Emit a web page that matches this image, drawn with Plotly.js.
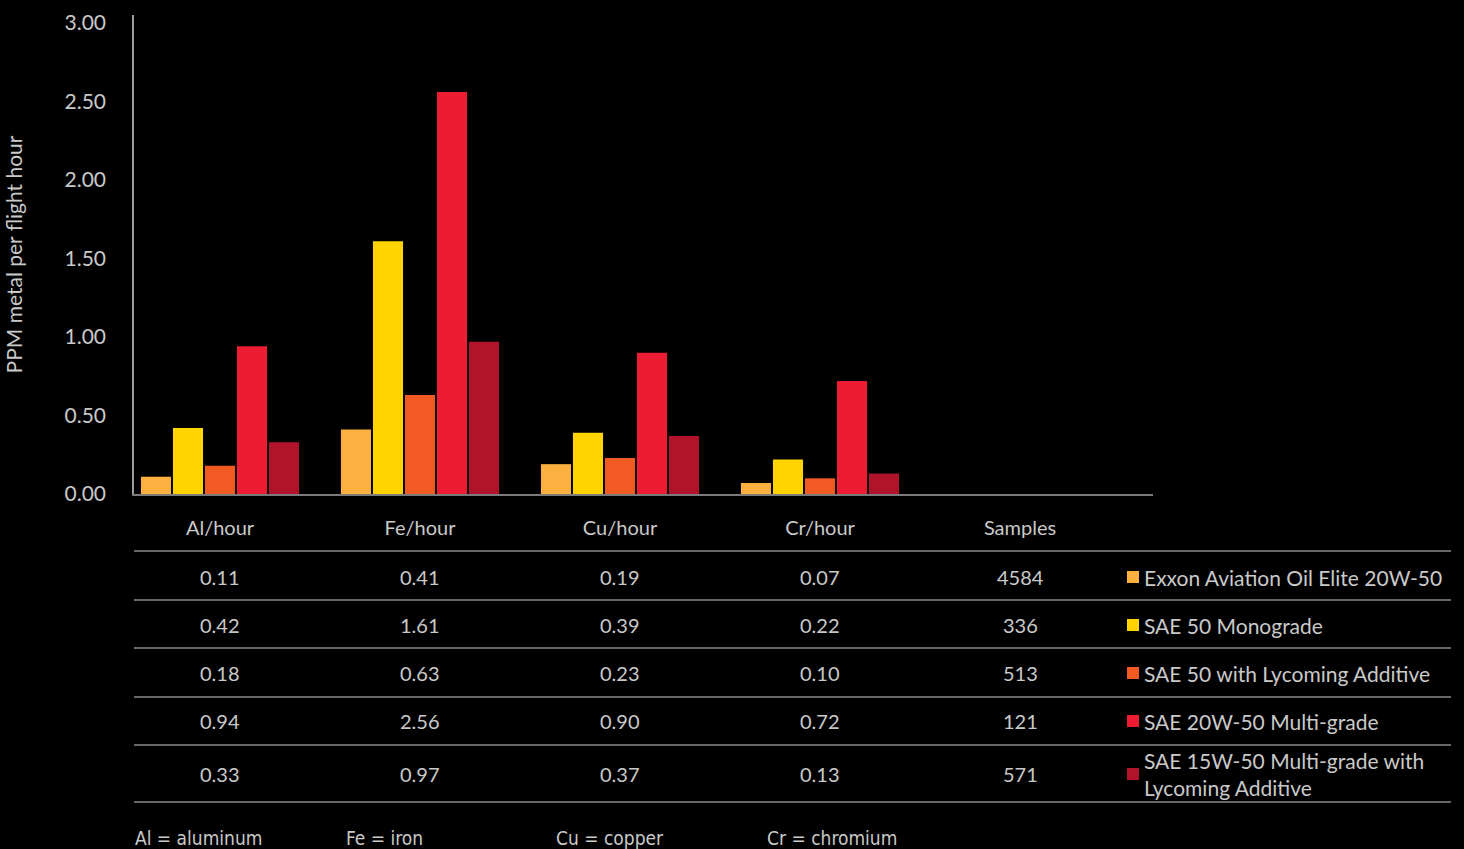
<!DOCTYPE html>
<html>
<head>
<meta charset="utf-8">
<script src="https://cdn.plot.ly/plotly-3.0.1.min.js"></script>
<style>
  html, body { margin: 0; padding: 0; background: #000; }
  #chart { width: 1464px; height: 849px; }
</style>
</head>
<body>
<div id="chart"></div>
<script>
// Wear metals per flight hour by oil type
const categories = ['Al/hour', 'Fe/hour', 'Cu/hour', 'Cr/hour', 'Samples'];
const oils = [
  'Exxon Aviation Oil Elite 20W-50',
  'SAE 50 Monograde',
  'SAE 50 with Lycoming Additive',
  'SAE 20W-50 Multi-grade',
  'SAE 15W-50 Multi-grade with<br>Lycoming Additive'
];
const alPerHour = [0.11, 0.42, 0.18, 0.94, 0.33];
const fePerHour = [0.41, 1.61, 0.63, 2.56, 0.97];
const cuPerHour = [0.19, 0.39, 0.23, 0.90, 0.37];
const crPerHour = [0.07, 0.22, 0.10, 0.72, 0.13];
const samples = [4584, 336, 513, 121, 571];
const yTicks = [0, 0.5, 1, 1.5, 2, 2.5, 3];
const footnotes = ['Al = aluminum', 'Fe = iron', 'Cu = copper', 'Cr = chromium'];

const colors = ['#FBB040', '#FFD400', '#F15A22', '#ED1C33', '#B0132A'];
const textColor = '#c9c9c9';
const lineColor = '#8a8a8a';
const font = 'Lato, "Open Sans", "Noto Sans", sans-serif';

// Pixel helpers for the table area under the plot
const W = 1464, H = 849;
const mL = 134, mR = 311, mT = 15, mB = 355;
const plotW = W - mL - mR, plotH = H - mT - mB;
const px = x => (x - mL) / plotW;
const py = y => (H - mB - y) / plotH;

const traces = oils.map((name, i) => ({
  type: 'bar',
  name: name,
  x: categories,
  y: [alPerHour[i], fePerHour[i], cuPerHour[i], crPerHour[i], null],
  marker: { color: colors[i], line: { width: 0 } },
  hoverinfo: 'name+y',
  showlegend: false
}));

const shapes = [];
const annotations = [];

// table rules
[551, 600, 648, 697, 745, 802].forEach(y => {
  shapes.push({
    type: 'line', xref: 'paper', yref: 'paper',
    x0: px(134), x1: px(1451), y0: py(y), y1: py(y),
    line: { color: lineColor, width: 1.5 }
  });
});

// table values
const rowY = [577, 625, 673, 721, 774];
oils.forEach((name, i) => {
  const rowVals = [alPerHour[i], fePerHour[i], cuPerHour[i], crPerHour[i]].map(v => v.toFixed(2));
  rowVals.push(String(samples[i]));
  rowVals.forEach((t, c) => {
    annotations.push({
      xref: 'x', yref: 'paper', x: categories[c], y: py(rowY[i]),
      text: t, showarrow: false, xanchor: 'center', yanchor: 'middle',
      font: { family: font, size: 20, color: textColor }
    });
  });
  // legend swatch + label
  shapes.push({
    type: 'rect', xref: 'paper', yref: 'paper',
    x0: px(1127), x1: px(1139), y0: py(rowY[i] - 6), y1: py(rowY[i] + 6),
    fillcolor: colors[i], line: { width: 0 }
  });
  annotations.push({
    xref: 'paper', yref: 'paper', x: px(1142), y: py(rowY[i]),
    text: name, showarrow: false, xanchor: 'left', yanchor: 'middle', align: 'left',
    font: { family: font, size: 21, color: textColor }
  });
});

// element key along the bottom
const footX = [133, 344, 554, 765];
footnotes.forEach((t, i) => {
  annotations.push({
    xref: 'paper', yref: 'paper', x: px(footX[i]), y: py(838),
    text: t, showarrow: false, xanchor: 'left', yanchor: 'middle',
    font: { family: '"DejaVu Sans Condensed", "Liberation Sans Narrow", ' + font, size: 19, color: textColor }
  });
});

const layout = {
  width: W, height: H,
  paper_bgcolor: '#000', plot_bgcolor: '#000',
  margin: { l: mL, r: mR, t: mT, b: mB },
  barmode: 'group',
  bargap: 0.2,
  bargroupgap: 0.06,
  font: { family: font, color: textColor },
  xaxis: {
    type: 'category',
    range: [-0.43, 4.665],
    showgrid: false, zeroline: false,
    showline: true, linecolor: '#7a7a7a', linewidth: 2,
    ticks: '', ticklabelstandoff: 15,
    tickfont: { family: font, size: 20, color: textColor },
    fixedrange: true
  },
  yaxis: {
    range: [0, 3.05],
    tickvals: yTicks,
    ticktext: yTicks.map(v => v.toFixed(2)),
    showgrid: false, zeroline: false,
    showline: true, linecolor: '#9a9a9a', linewidth: 1.5,
    ticks: '', ticklabelstandoff: 22,
    tickfont: { family: font, size: 21, color: textColor },
    title: { text: 'PPM metal per flight hour', standoff: 36,
             font: { family: font, size: 21, color: textColor } },
    fixedrange: true
  },
  shapes: shapes,
  annotations: annotations
};

Plotly.newPlot('chart', traces, layout, { displayModeBar: false, responsive: false });
</script>
</body>
</html>
